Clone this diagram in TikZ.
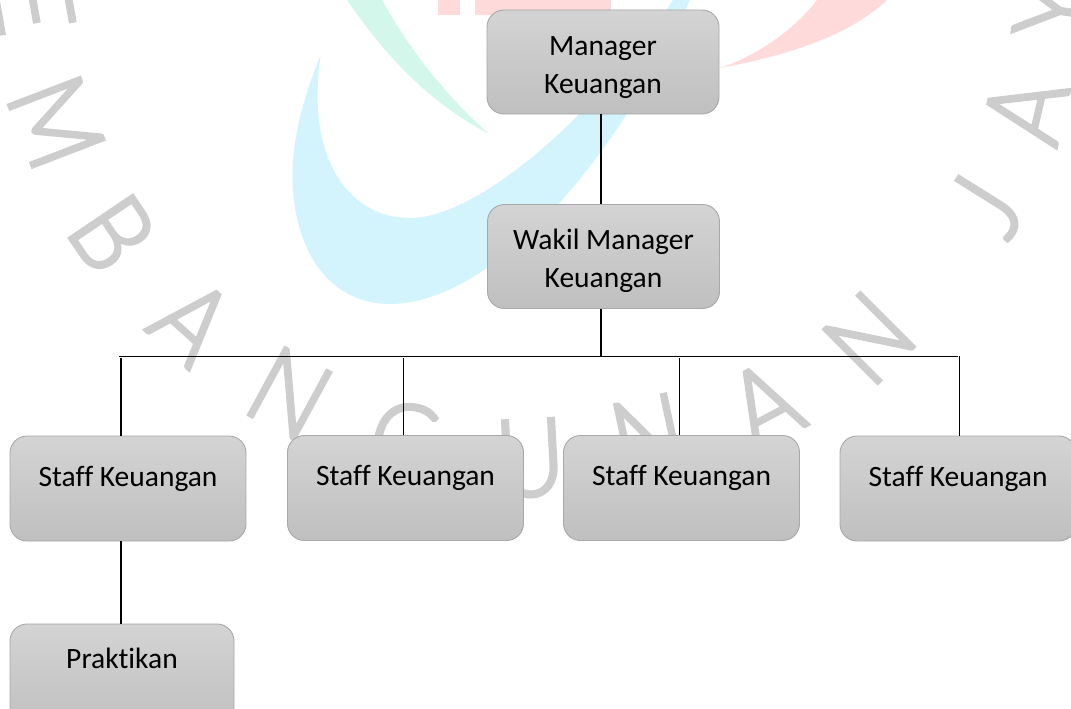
\documentclass[tikz,border=0pt]{standalone}
\usepackage{fontspec}
\setmainfont[Ligatures=NoCommon]{Carlito}
\newfontfamily\wmfont[FakeBold=3,FakeStretch=0.88]{Lato Light}
\definecolor{wmgray}{HTML}{CDCDCD}
\definecolor{wmcyan}{HTML}{D3F4FD}
\definecolor{wmgreen}{HTML}{D3F7EA}
\definecolor{wmred}{HTML}{FEDADA}
\definecolor{boxline}{HTML}{A8A8A8}
\tikzset{
  orgbox/.style={draw=boxline,line width=0.9pt,rounded corners=17pt,top color=black!17,bottom color=black!25,
    inner sep=0pt,align=center,font=\fontsize{29.5}{38}\selectfont,text=black},
  staffbox/.style={orgbox,minimum width=236pt,minimum height=105pt,text height=20pt,text depth=25pt},
  headbox/.style={orgbox,minimum width=232pt,minimum height=104pt},
  wm/.style={text=wmgray,inner sep=0pt,font=\wmfont\fontsize{108}{108}\selectfont,text height=78pt,text depth=0pt},
  conn/.style={draw=black,line width=1.1pt},
  bus/.style={draw=black,line width=1.4pt}
}
\begin{document}
\begin{tikzpicture}[x=1pt,y=-1pt]
\useasboundingbox (0,0) rectangle (1071,709);
\clip (0,0) rectangle (1071,709);
% watermark swooshes
\fill[wmcyan] (320.7,55) .. controls (300,105) and (290,150) .. (293,190)
  .. controls (298,260) and (335,304) .. (390,304)
  .. controls (480,304) and (600,190) .. (690,0) -- (673,0)
  .. controls (600,110) and (480,218) .. (410,218)
  .. controls (350,218) and (305,160) .. (320.7,55) -- cycle;
\fill[wmgreen] (489,134) .. controls (440,108) and (395,70) .. (347,0) -- (382,0)
  .. controls (410,50) and (445,95) .. (489,134) -- cycle;
\fill[wmred] (437.7,0) rectangle (460,15);
\fill[wmred] (475,0) rectangle (610.7,15);
\fill[wmred] (720,68) .. controls (790,55) and (850,35) .. (887,0) -- (817,0)
  .. controls (790,35) and (750,58) .. (720,68) -- cycle;
% watermark letters
\node[wm,rotate=-80] (wE) at (34,5) {E};
\node[wm,rotate=-69] (wM) at (57,122) {M};
\node[wm,rotate=-56] (wB) at (113,233) {B};
\node[wm,rotate=-42] (wA) at (193,321) {A};
\node[wm,rotate=-28.5] (wN) at (290,393) {N};
\node[wm,rotate=-10] (wG) at (405,442) {G};
\node[wm,rotate=3] (wU) at (530,457) {U};
\node[wm,rotate=12] (wNb) at (648,436) {N};
\node[wm,rotate=28] (wAb) at (764,404) {A};
\node[wm,rotate=45] (wNc) at (868.5,337.5) {N};
\node[wm,rotate=58] (wJ) at (985,205) {J};
\node[wm,rotate=77] (wAc) at (1025,110) {A};
\node[wm,rotate=82] (wY) at (1053,10) {Y};
% boxes
\node[headbox] (mgr) at (603,62) {\rule{0pt}{30pt}Manager\\Keuangan};
\node[headbox] (wakil) at (603.5,256.5) {\rule{0pt}{30pt}Wakil Manager\\Keuangan};
\node[staffbox] (s1) at (128,488.5) {Staff Keuangan};
\node[staffbox] (s2) at (405.5,488) {Staff Keuangan};
\node[staffbox] (s3) at (681.5,488) {Staff Keuangan};
\node[staffbox] (s4) at (958,488.5) {Staff Keuangan};
\node[orgbox,minimum width=224pt,minimum height=105pt,text height=20pt,text depth=37pt] (prak) at (122,676.5) {Praktikan};
% connector anchors
\coordinate (trunk) at (601,356.5);
\coordinate (busL) at (119,356.5);
\coordinate (busR) at (958,356.5);
\coordinate (d1) at (121,358);
\coordinate (d2) at (403.5,358);
\coordinate (d3) at (679.5,358);
\coordinate (d4) at (959.5,356);
% connectors
\draw[conn] (mgr.south -| trunk) -- (wakil.north -| trunk);
\draw[conn] (wakil.south -| trunk) -- (trunk);
\draw[bus] (busL) -- (busR);
\draw[conn] (d1) -- (s1.north -| d1);
\draw[conn] (d2) -- (s2.north -| d2);
\draw[conn] (d3) -- (s3.north -| d3);
\draw[conn] (d4) -- (s4.north -| d4);
\draw[conn] (s1.south -| d1) -- (prak.north -| d1);
\end{tikzpicture}
\end{document}
